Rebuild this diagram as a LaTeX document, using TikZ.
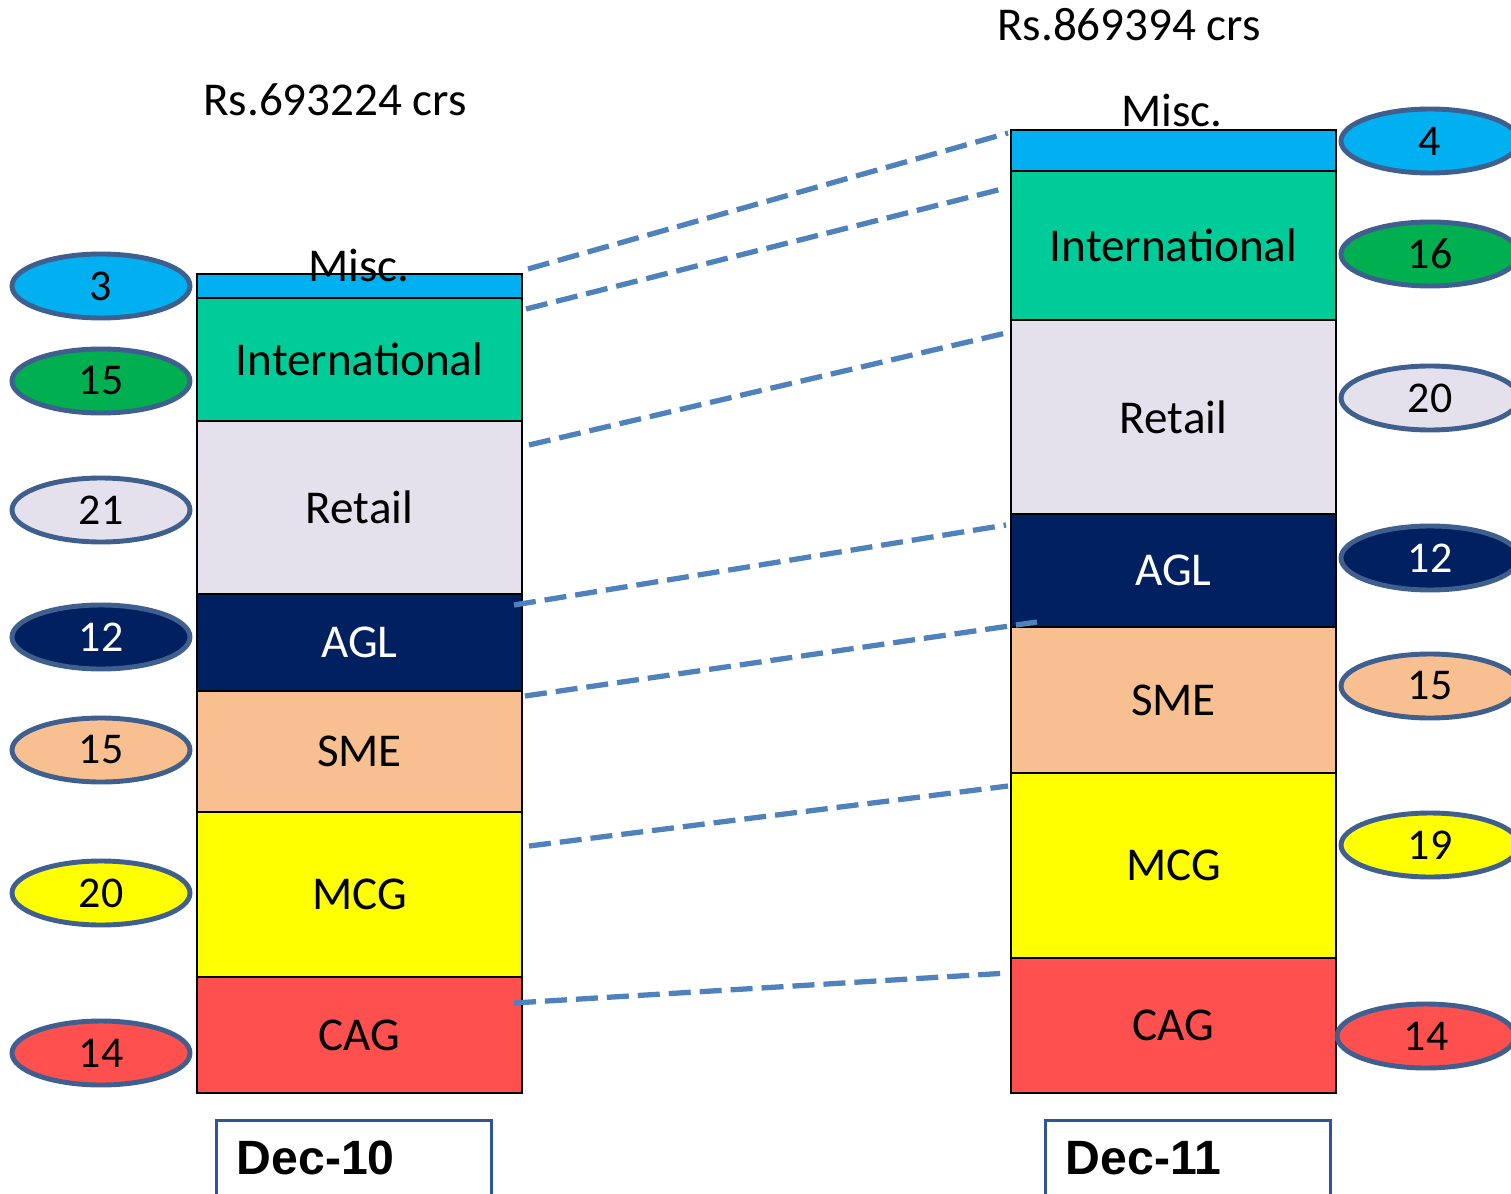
\documentclass[tikz,border=0pt]{standalone}
\usepackage{fontspec}
\setmainfont{Carlito}
\newfontfamily\decfont{Liberation Sans}
\usetikzlibrary{shapes.geometric}
\definecolor{cMisc}{HTML}{00B0F0}
\definecolor{cIntl}{HTML}{00CC99}
\definecolor{cRetail}{HTML}{E4E0EC}
\definecolor{cAGL}{HTML}{002060}
\definecolor{cSME}{HTML}{F8C090}
\definecolor{cMCG}{HTML}{FFFF00}
\definecolor{cCAG}{HTML}{FF5050}
\definecolor{cGreen}{HTML}{00B050}
\definecolor{ellEdge}{HTML}{3F5F8F}
\definecolor{dashBlue}{HTML}{4F81BD}
\definecolor{decEdge}{HTML}{2F5597}
\tikzset{
  seg/.style={draw=black, line width=0.6pt, rectangle, inner sep=0pt, outer sep=0pt,
    minimum width=3.25cm, font=\fontsize{13.4}{16}\selectfont},
  pct/.style={draw=ellEdge, line width=1.4pt, ellipse, inner sep=0pt,
    minimum width=1.78cm, minimum height=0.64cm, font=\fontsize{12.5}{14}\selectfont},
  lbl/.style={inner sep=0pt, font=\fontsize{13.4}{16}\selectfont},
  link/.style={draw=dashBlue, line width=1.5pt, dash pattern=on 0.22cm off 0.09cm},
  decbox/.style={draw=decEdge, line width=0.85pt, rectangle, inner sep=0pt, anchor=north west},
  dectext/.style={inner sep=0pt, anchor=west, font=\decfont\bfseries\fontsize{13.7}{16}\selectfont}
}
\begin{document}
\begin{tikzpicture}
\clip (0,0) rectangle (15.11,-11.93);
\fill[white] (0,0) rectangle (15.11,-11.93);

% Titles
\node[lbl] (t1) at (3.35,-1.00) {Rs.693224 crs};
\node[lbl] (t2) at (11.29,-0.25) {Rs.869394 crs};

% Left bar (Dec-10)
\node[seg, fill=cMisc, minimum height=0.24cm] (Lmisc) at (3.595,-2.86) {};
\node[seg, fill=cIntl, minimum height=1.23cm] (Lintl) at (3.595,-3.595) {International};
\node[seg, fill=cRetail, minimum height=1.73cm] (Lret) at (3.595,-5.075) {Retail};
\node[seg, fill=cAGL, text=white, minimum height=0.97cm] (Lagl) at (3.595,-6.425) {AGL};
\node[seg, fill=cSME, minimum height=1.21cm] (Lsme) at (3.595,-7.515) {SME};
\node[seg, fill=cMCG, minimum height=1.65cm] (Lmcg) at (3.595,-8.945) {MCG};
\node[seg, fill=cCAG, minimum height=1.16cm] (Lcag) at (3.595,-10.35) {CAG};
\node[lbl] (Lmisct) at (3.59,-2.65) {Misc.};

% Right bar (Dec-11)
\node[seg, fill=cMisc, minimum height=0.41cm] (Rmisc) at (11.735,-1.505) {};
\node[seg, fill=cIntl, minimum height=1.49cm] (Rintl) at (11.735,-2.455) {International};
\node[seg, fill=cRetail, minimum height=1.94cm] (Rret) at (11.735,-4.17) {Retail};
\node[seg, fill=cAGL, text=white, minimum height=1.13cm] (Ragl) at (11.735,-5.705) {AGL};
\node[seg, fill=cSME, minimum height=1.46cm] (Rsme) at (11.735,-7.00) {SME};
\node[seg, fill=cMCG, minimum height=1.85cm] (Rmcg) at (11.735,-8.655) {MCG};
\node[seg, fill=cCAG, minimum height=1.35cm] (Rcag) at (11.735,-10.255) {CAG};
\node[lbl] (Rmisct) at (11.72,-1.10) {Misc.};

% Left ellipses
\node[pct, fill=cMisc] (Le1) at (1.01,-2.86) {3};
\node[pct, fill=cGreen] (Le2) at (1.01,-3.81) {15};
\node[pct, fill=cRetail] (Le3) at (1.01,-5.10) {21};
\node[pct, fill=cAGL, text=white] (Le4) at (1.01,-6.37) {12};
\node[pct, fill=cSME] (Le5) at (1.01,-7.50) {15};
\node[pct, fill=cMCG] (Le6) at (1.01,-8.93) {20};
\node[pct, fill=cCAG] (Le7) at (1.01,-10.53) {14};

% Right ellipses
\node[pct, fill=cMisc] (Re1) at (14.30,-1.41) {4};
\node[pct, fill=cGreen] (Re2) at (14.30,-2.54) {16};
\node[pct, fill=cRetail] (Re3) at (14.30,-3.98) {20};
\node[pct, fill=cAGL, text=white] (Re4) at (14.30,-5.58) {12};
\node[pct, fill=cSME] (Re5) at (14.30,-6.86) {15};
\node[pct, fill=cMCG] (Re6) at (14.30,-8.45) {19};
\node[pct, fill=cCAG] (Re7) at (14.26,-10.36) {14};

% Dashed connector end points
\coordinate (a1) at (5.28,-2.69); \coordinate (b1) at (10.08,-1.33);
\coordinate (a2) at (5.26,-3.09); \coordinate (b2) at (10.06,-1.88);
\coordinate (a3) at (5.29,-4.45); \coordinate (b3) at (10.06,-3.33);
\coordinate (a4) at (5.14,-6.05); \coordinate (b4) at (10.06,-5.25);
\coordinate (a5) at (5.25,-6.96); \coordinate (b5) at (10.37,-6.22);
\coordinate (a6) at (5.29,-8.46); \coordinate (b6) at (10.08,-7.86);
\coordinate (a7) at (5.14,-10.03); \coordinate (b7) at (10.08,-9.73);
\draw[link] (a1) -- (b1);
\draw[link] (a2) -- (b2);
\draw[link] (a3) -- (b3);
\draw[link] (a4) -- (b4);
\draw[link] (a5) -- (b5);
\draw[link] (a6) -- (b6);
\draw[link] (a7) -- (b7);

% Date boxes
\node[decbox, minimum width=2.75cm, minimum height=1.2cm] (d10) at (2.15,-11.19) {};
\node[dectext] (d10t) at (2.36,-11.58) {Dec-10};
\node[decbox, minimum width=2.85cm, minimum height=1.2cm] (d11) at (10.44,-11.19) {};
\node[dectext] (d11t) at (10.65,-11.58) {Dec-11};
\end{tikzpicture}
\end{document}
